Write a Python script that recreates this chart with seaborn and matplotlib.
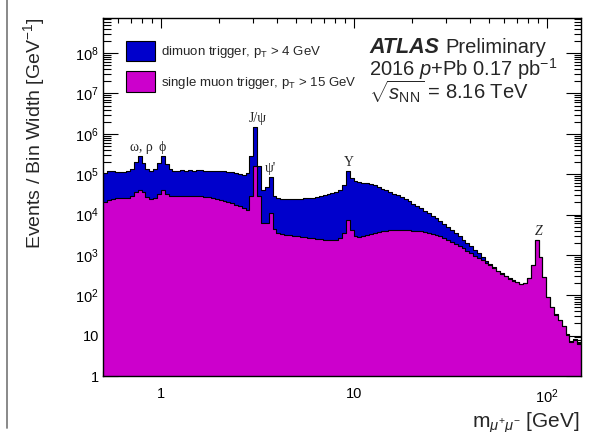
import numpy as np
import pandas as pd
import matplotlib
matplotlib.use("Agg")
import matplotlib.pyplot as plt
import seaborn as sns
from matplotlib.patches import Patch
from matplotlib.lines import Line2D
from matplotlib.ticker import LogLocator, FixedLocator, FixedFormatter, NullFormatter

# ---------------- data ----------------
mass_min, mass_max, n_bins = 0.5, 150.0, 124

# log10(events / bin width) per bin, dimuon trigger
dimuon_log10 = [
    5.04, 5.09, 5.07, 5.05, 5.05, 5.06, 5.07, 5.13, 5.30, 5.45,
    5.28, 5.13, 5.08, 5.13, 5.28, 5.45, 5.25, 5.12, 5.09, 5.09,
    5.10, 5.09, 5.10, 5.09, 5.10, 5.10, 5.09, 5.09, 5.08, 5.08,
    5.07, 5.07, 5.06, 5.05, 5.03, 5.01, 4.98, 5.02, 5.45, 6.18,
    5.20, 4.60, 4.67, 4.94, 4.46, 4.41, 4.39, 4.38, 4.38, 4.38,
    4.39, 4.39, 4.40, 4.41, 4.42, 4.44, 4.46, 4.48, 4.50, 4.53,
    4.57, 4.62, 4.72, 5.07, 4.90, 4.84, 4.81, 4.79, 4.77, 4.75,
    4.72, 4.68, 4.64, 4.60, 4.56, 4.52, 4.48, 4.43, 4.38, 4.33,
    4.27, 4.22, 4.16, 4.10, 4.04, 3.97, 3.91, 3.84, 3.76, 3.69,
    3.61, 3.54, 3.46, 3.38, 3.29, 3.21, 3.12, 3.04, 2.95, 2.86,
    2.78, 2.70, 2.60, 2.52, 2.48, 2.43, 2.37, 2.33, 2.29, 2.31,
    2.43, 2.76, 3.38, 2.96, 2.46, 1.96, 1.71, 1.53, 1.39, 1.25,
    1.03, 0.86, 0.91, 0.81,
]

# log10(events / bin width) per bin, single muon trigger
single_log10 = [
    4.30, 4.36, 4.38, 4.40, 4.41, 4.42, 4.42, 4.46, 4.55, 4.62,
    4.55, 4.44, 4.39, 4.42, 4.52, 4.60, 4.52, 4.46, 4.46, 4.46,
    4.47, 4.47, 4.47, 4.46, 4.46, 4.45, 4.44, 4.43, 4.41, 4.39,
    4.37, 4.34, 4.31, 4.28, 4.24, 4.20, 4.15, 4.12, 4.45, 5.21,
    4.45, 3.80, 3.78, 4.04, 3.65, 3.55, 3.52, 3.50, 3.49, 3.48,
    3.47, 3.45, 3.44, 3.42, 3.41, 3.40, 3.39, 3.38, 3.37, 3.37,
    3.38, 3.42, 3.55, 3.87, 3.62, 3.48, 3.45, 3.47, 3.50, 3.53,
    3.55, 3.57, 3.59, 3.60, 3.61, 3.62, 3.62, 3.62, 3.62, 3.61,
    3.60, 3.59, 3.58, 3.56, 3.54, 3.52, 3.50, 3.46, 3.42, 3.38,
    3.33, 3.28, 3.22, 3.16, 3.10, 3.04, 2.98, 2.93, 2.87, 2.81,
    2.74, 2.68, 2.61, 2.54, 2.47, 2.41, 2.36, 2.32, 2.28, 2.30,
    2.42, 2.75, 3.37, 2.95, 2.45, 1.95, 1.70, 1.52, 1.38, 1.24,
    1.02, 0.85, 0.90, 0.80,
]

series_labels = [r"dimuon trigger, p$_{\mathrm{T}}$ > 4 GeV",
                 r"single muon trigger, p$_{\mathrm{T}}$ > 15 GeV"]
series_colors = ["#0000CC", "#CC00CC"]

peak_labels = ["ω, ρ", "ϕ", "J/ψ", "ψ'", "Υ", "Z"]
peak_masses = [0.79, 1.01, 3.16, 3.67, 9.45, 91.0]

x_tick_values = [1, 10, 100]
x_tick_labels = ["1", "10", r"$10^{2}$"]
y_tick_values = [1, 10, 1e2, 1e3, 1e4, 1e5, 1e6, 1e7, 1e8]
y_tick_labels = ["1", "10"] + [r"$10^{%d}$" % k for k in range(2, 9)]

# ---------------- style ----------------
sns.set_theme(style="ticks")
plt.rcParams["font.family"] = ["Liberation Sans", "DejaVu Sans"]
plt.rcParams["mathtext.fontset"] = "custom"
plt.rcParams["mathtext.rm"] = "Liberation Sans"
plt.rcParams["mathtext.it"] = "Liberation Sans:italic"
plt.rcParams["mathtext.bf"] = "Liberation Sans:bold"

# bin edges (log-spaced) and step data (value repeated at the last edge)
edges = 10 ** np.linspace(np.log10(mass_min), np.log10(mass_max), n_bins + 1)
series = {
    "dimuon": 10 ** np.array(dimuon_log10),
    "single": 10 ** np.array(single_log10),
}
df = pd.DataFrame({"edge": edges})
for k, v in series.items():
    df[k] = np.append(v, v[-1])

W, H = 598, 432
fig = plt.figure(figsize=(W / 100, H / 100), dpi=100)
ax = fig.add_axes([103 / W, 56 / H, 478 / W, 358 / H])
ax.set_xscale("log")
ax.set_yscale("log")

for col, colr in zip(["dimuon", "single"], series_colors):
    ax.fill_between(df["edge"], df[col], 1e-3, step="post", color=colr,
                    linewidth=0)
    sns.lineplot(data=df, x="edge", y=col, drawstyle="steps-post",
                 color="black", linewidth=0.8, estimator=None, sort=False,
                 ax=ax)

ax.set_xlim(mass_min, mass_max)
ax.set_ylim(1, 7.4e8)
ax.set_xlabel("")
ax.set_ylabel("")

ax.xaxis.set_major_locator(FixedLocator(x_tick_values))
ax.xaxis.set_major_formatter(FixedFormatter(x_tick_labels))
ax.xaxis.set_minor_locator(LogLocator(base=10, subs=np.arange(2, 10), numticks=30))
ax.xaxis.set_minor_formatter(NullFormatter())
ax.yaxis.set_major_locator(FixedLocator(y_tick_values))
ax.yaxis.set_major_formatter(FixedFormatter(y_tick_labels))
ax.yaxis.set_minor_locator(LogLocator(base=10, subs=np.arange(2, 10), numticks=30))
ax.yaxis.set_minor_formatter(NullFormatter())

ax.tick_params(which="both", direction="in", top=True, right=True,
               color="black", width=0.8, labelsize=10.5, labelcolor="black")
ax.tick_params(axis="x", which="major", length=7.2, pad=8)
ax.tick_params(axis="x", which="minor", length=3.6)
ax.tick_params(axis="y", which="major", length=10.8, pad=3)
ax.tick_params(axis="y", which="minor", length=5.4)
for sp in ax.spines.values():
    sp.set_color("black")
    sp.set_linewidth(1.0)
    sp.set_zorder(5)

# peak labels
blue_arr = np.array(dimuon_log10)
log_edges = np.log10(edges)
for lab, m in zip(peak_labels, peak_masses):
    idx = int(np.searchsorted(log_edges, np.log10(m))) - 1
    top = 10 ** blue_arr[max(idx - 1, 0):idx + 2].max()
    ax.text(m, top * 1.12, lab, ha="center", va="bottom", fontsize=10,
            family=["Liberation Serif", "DejaVu Serif"],
            style="italic" if lab == "Z" else "normal")

# legend
handles = [Patch(facecolor=c, edgecolor="black", linewidth=0.8) for c in series_colors]
fig.legend(handles, series_labels, loc="upper left",
           bbox_to_anchor=(126 / W, 1 - 41 / H), frameon=False, fontsize=9.5,
           handlelength=2.2, handleheight=2.0, handletextpad=0.45,
           labelspacing=0.75, borderpad=0, borderaxespad=0)

# ATLAS label
fig.text(369 / W, 1 - 53 / H, "ATLAS", fontsize=15.5, fontweight="bold",
         style="italic", va="baseline")
fig.text(445 / W, 1 - 53 / H, "Preliminary", fontsize=14.5, va="baseline")
fig.text(369 / W, 1 - 76 / H, r"2016 $p$+Pb 0.17 pb$^{-1}$", fontsize=14.5, va="baseline")
fig.text(369 / W, 1 - 99 / H, r"$\sqrt{s_{\mathrm{NN}}}$ = 8.16 TeV", fontsize=14.5, va="baseline")

# axis titles
fig.text(34 / W, 1 - 18 / H, r"Events / Bin Width [GeV$^{-1}$]", rotation=90,
         ha="center", va="top", fontsize=14)
fig.text(580 / W, 1 - 428 / H, r"m$_{\mu^{+}\mu^{-}}$ [GeV]", ha="right",
         va="baseline", fontsize=15)

# left border line of the canvas
fig.add_artist(Line2D([7 / W, 7 / W], [4 / H, 1], transform=fig.transFigure,
                      color="#808080", linewidth=1.3))

fig.savefig("out.png", dpi=100)
